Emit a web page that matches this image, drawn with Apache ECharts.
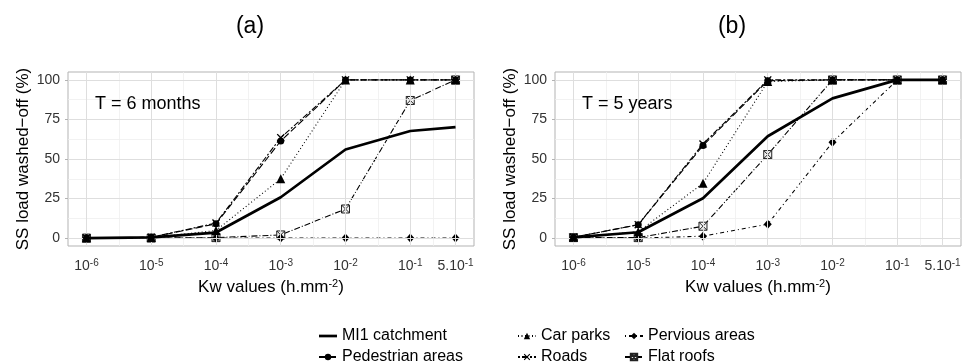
<!DOCTYPE html>
<html>
<head>
<meta charset="utf-8">
<script src="https://cdn.jsdelivr.net/npm/echarts@6/dist/echarts.min.js"></script>
<style>
html,body{margin:0;padding:0;background:#fff;}
#chart{width:973px;height:363px;}
</style>
</head>
<body>
<div id="chart"></div>
<script>
// ---------- data ----------
const KW = [1e-6, 1e-5, 1e-4, 1e-3, 1e-2, 1e-1, 5e-1];
const X_TICK_LABELS = ['10^-6', '10^-5', '10^-4', '10^-3', '10^-2', '10^-1', '5.10^-1'];
const Y_TICKS = [0, 25, 50, 75, 100];
const Y_MINOR = [12.5, 37.5, 62.5, 87.5];
const X_MINOR_KW = [10 ** -5.5, 10 ** -4.5, 10 ** -3.5, 10 ** -2.5, 10 ** -1.5, Math.sqrt(0.1 * 0.5)];

const SERIES_NAMES = ['MI1 catchment', 'Pedestrian areas', 'Car parks', 'Roads', 'Pervious areas', 'Flat roofs'];
const PANEL_TITLES = ['(a)', '(b)'];
const PANEL_NOTES = ['T = 6 months', 'T = 5 years'];

// Panel (a): T = 6 months
const A_MI1   = [0, 0.5, 3.5, 25.8, 56, 67.7, 70.2];
const A_PED   = [0, 0.5, 9, 61.4, 100, 100, 100];
const A_CAR   = [0, 0.3, 4.8, 37.5, 100, 100, 100];
const A_ROADS = [0, 0.5, 9.5, 63.5, 100, 100, 100];
const A_PERV  = [0, 0, 0, 0, 0, 0, 0];
const A_FLAT  = [0, 0, 0.3, 2, 18.4, 87, 100];

// Panel (b): T = 5 years
const B_MI1   = [0.5, 3.7, 25.2, 64.4, 88.3, 100, 100];
const B_PED   = [0.5, 8.4, 58.5, 99.5, 100, 100, 100];
const B_CAR   = [0.5, 4, 34.6, 99, 100, 100, 100];
const B_ROADS = [0.5, 8.5, 59.5, 100, 100, 100, 100];
const B_PERV  = [0, 0, 1.2, 8.8, 60.6, 100, 100];
const B_FLAT  = [0.3, 0.3, 7.5, 52.8, 100, 100, 100];

const PANELS = [
  [A_MI1, A_PED, A_CAR, A_ROADS, A_PERV, A_FLAT],
  [B_MI1, B_PED, B_CAR, B_ROADS, B_PERV, B_FLAT]
];

// ---------- styles ----------
const FONT = '"Liberation Sans", Arial, sans-serif';
const X_SYM = 'path://M0,1.2L1.2,0L5,3.8L8.8,0L10,1.2L6.2,5L10,8.8L8.8,10L5,6.2L1.2,10L0,8.8L3.8,5Z';
const BOX_X = 'path://M0,0L10,0L10,10L0,10Z M0,0L10,10 M10,0L0,10';

const STYLES = [
  { symbol: 'none', symbolSize: 0, line: { width: 2.7, type: 'solid' }, item: { color: '#000' }, z: 9 },
  { symbol: 'circle', symbolSize: 7, line: { width: 1.1, type: [7, 3] }, item: { color: '#000' }, z: 6 },
  { symbol: 'triangle', symbolSize: 9, line: { width: 1.1, type: [1, 2.5] }, item: { color: '#000' }, z: 5 },
  { symbol: X_SYM, symbolSize: 8, line: { width: 1.1, type: [2, 2, 6, 2] }, item: { color: '#000' }, z: 7 },
  { symbol: 'diamond', symbolSize: [8, 9], line: { width: 1.1, type: [1, 3, 4, 3] }, item: { color: '#000' }, z: 4 },
  { symbol: BOX_X, symbolSize: 8, line: { width: 1.1, type: [6, 2, 1, 2] }, item: { color: '#f4f4f4', borderColor: '#222', borderWidth: 1 }, z: 3 }
];

const lx = (k) => Math.log10(k);
const X_MIN = -6.285, X_MAX = -0.016;

function xLabelRich(s) {
  const p = s.split('^');
  return p[0] + '{s|' + p[1] + '}';
}
const X_TICK_VALUES = KW.map(lx);

const GRID_LEFT = [68, 555];

const grids = [], xAxes = [], yAxes = [], series = [], titles = [];
PANELS.forEach((sets, pi) => {
  grids.push({ left: GRID_LEFT[pi], top: 72, width: 406, height: 174, show: true, borderColor: '#b3b3b3', borderWidth: 1, backgroundColor: 'transparent' });
  xAxes.push({
    gridIndex: pi, type: 'value', min: X_MIN, max: X_MAX,
    axisLine: { show: false },
    axisTick: { show: true, length: 3, lineStyle: { color: '#b3b3b3' }, customValues: X_TICK_VALUES },
    splitLine: { show: false },
    axisLabel: {
      customValues: X_TICK_VALUES, margin: 12, color: '#333', fontFamily: FONT, fontSize: 14,
      formatter: (v) => { const i = X_TICK_VALUES.findIndex(t => Math.abs(t - v) < 1e-6); return i >= 0 ? xLabelRich(X_TICK_LABELS[i]) : ''; },
      rich: { s: { fontSize: 10, fontFamily: FONT, color: '#333', verticalAlign: 'top', padding: [0, 0, 6, 0] } }
    },
    name: 'Kw values (h.mm{s|-2})', nameLocation: 'middle', nameGap: 32,
    nameTextStyle: { fontFamily: FONT, fontSize: 17, color: '#000', rich: { s: { fontSize: 11, fontFamily: FONT, color: '#000', verticalAlign: 'top', padding: [0, 0, 8, 0] } } }
  });
  yAxes.push({
    gridIndex: pi, type: 'value', min: -5, max: 105,
    axisLine: { show: false },
    axisTick: { show: true, length: 3, lineStyle: { color: '#b3b3b3' }, customValues: Y_TICKS },
    splitLine: { show: false },
    axisLabel: { customValues: Y_TICKS, margin: 8, color: '#333', fontFamily: FONT, fontSize: 14 },
    name: 'SS load washed\u2212off (%)', nameLocation: 'middle', nameGap: 36,
    nameTextStyle: { fontFamily: FONT, fontSize: 17, color: '#000' }
  });
  // grid lines through the axes' scales
  const mk = [];
  Y_MINOR.forEach(v => mk.push({ yAxis: v, lineStyle: { color: '#efefef', width: 0.8, type: 'solid' } }));
  X_MINOR_KW.forEach(k => mk.push({ xAxis: lx(k), lineStyle: { color: '#efefef', width: 0.8, type: 'solid' } }));
  Y_TICKS.forEach(v => mk.push({ yAxis: v, lineStyle: { color: '#dedede', width: 1, type: 'solid' } }));
  X_TICK_VALUES.forEach(v => mk.push({ xAxis: v, lineStyle: { color: '#dedede', width: 1, type: 'solid' } }));
  series.push({
    type: 'line', name: '_grid' + pi, xAxisIndex: pi, yAxisIndex: pi, data: [], z: 1, silent: true,
    markLine: { silent: true, symbol: ['none', 'none'], label: { show: false }, animation: false, data: mk }
  });
  sets.forEach((vals, si) => {
    const st = STYLES[si];
    series.push({
      type: 'line', name: SERIES_NAMES[si], xAxisIndex: pi, yAxisIndex: pi,
      data: KW.map((k, i) => [lx(k), vals[i]]),
      symbol: st.symbol, symbolSize: st.symbolSize, showSymbol: st.symbol !== 'none',
      lineStyle: Object.assign({ color: '#000' }, st.line),
      itemStyle: st.item, z: st.z, silent: true
    });
  });
  titles.push({ text: PANEL_TITLES[pi], left: [250, 732][pi], top: 15, padding: 0, textAlign: 'center', textStyle: { fontFamily: FONT, fontSize: 23, fontWeight: 'normal', color: '#000' } });
  titles.push({ text: PANEL_NOTES[pi], left: [95, 582][pi], top: 95, padding: 0, textStyle: { fontFamily: FONT, fontSize: 18, fontWeight: 'normal', color: '#000' } });
});

const legendBase = {
  orient: 'vertical', top: 328, height: 60, itemWidth: 18, itemHeight: 8, itemGap: 5,
  textStyle: { fontFamily: FONT, fontSize: 16, color: '#000' }, selectedMode: false, padding: 0
};
const legends = [
  Object.assign({}, legendBase, { left: 318, data: [{ name: SERIES_NAMES[0], icon: 'path://M0,0H60V9H0Z' }, SERIES_NAMES[1]] }),
  Object.assign({}, legendBase, { left: 517, data: [SERIES_NAMES[2], SERIES_NAMES[3]] }),
  Object.assign({}, legendBase, { left: 624, data: [SERIES_NAMES[4], SERIES_NAMES[5]] })
];

const chart = echarts.init(document.getElementById('chart'), null, { renderer: 'canvas' });
chart.setOption({
  animation: false,
  backgroundColor: '#fff',
  title: titles,
  legend: legends,
  grid: grids,
  xAxis: xAxes,
  yAxis: yAxes,
  series: series
});
</script>
</body>
</html>
